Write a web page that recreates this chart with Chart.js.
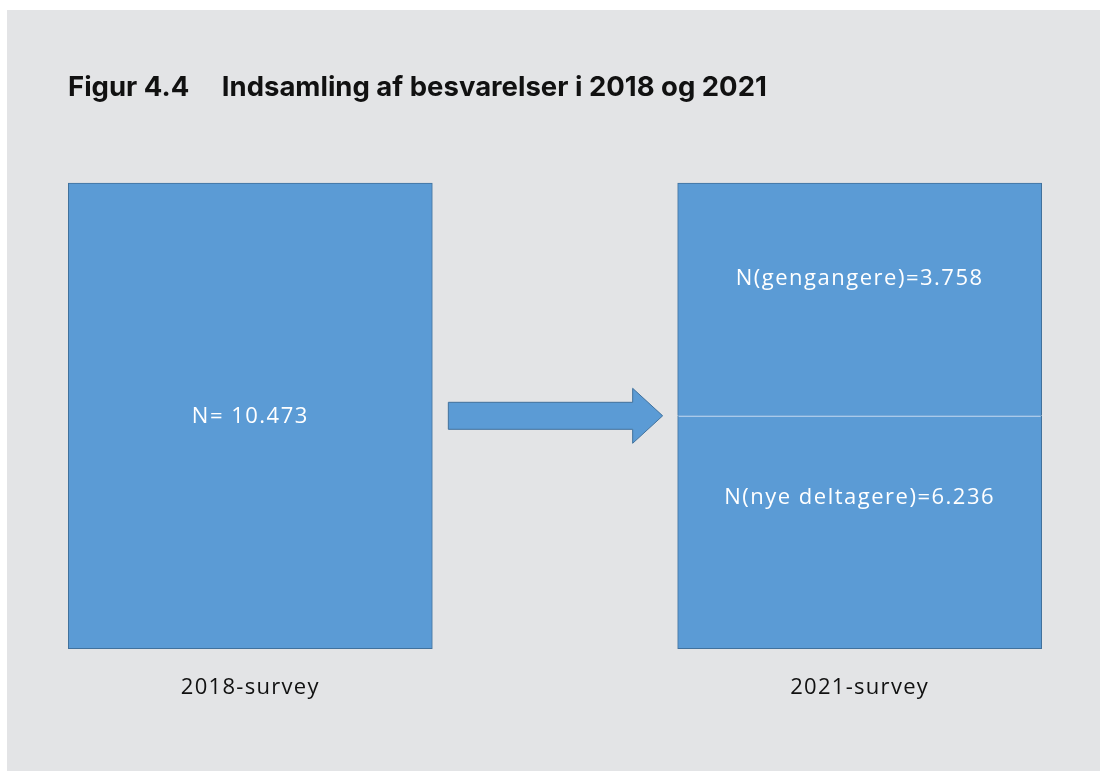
<!DOCTYPE html>
<html>
<head>
<meta charset="utf-8">
<script src="https://cdn.jsdelivr.net/npm/chart.js@4/dist/chart.umd.min.js"></script>
<style>
    body { margin: 0; background: #ffffff; }
    .panel { position: absolute; left: 7px; top: 10px; width: 1093px; height: 761px; background: #e3e4e6; }
</style>
</head>
<body>
<div class="panel"><canvas id="flow-chart" width="1093" height="761"></canvas></div>
<script>
// kategorier: 2018-boks, pil, 2021-boks
const categories = ['2018-survey', '', '2021-survey'];
const groups2021 = ['gengangere', 'nye deltagere'];
const n2018 = 10473;
const n2021 = [3758, 6236];
// boksenes højde i skitsen (ikke proportional med N)
const boxUnits2018 = [2, null, null];
const upperUnits2021 = [null, null, 1];
const lowerUnits2021 = [null, null, 1];

const blue = '#5b9bd5';
const edge = '#41719c';

function fmt(n) {
    return String(n).replace(/\B(?=(\d{3})+(?!\d))/g, '.');
}

const diagram = {
    id: 'diagram',
    afterDatasetsDraw(chart) {
        const ctx = chart.ctx;
        const y = chart.scales.y;
        const box18 = chart.getDatasetMeta(0).data[0];
        const lower = chart.getDatasetMeta(1).data[2];
        const upper = chart.getDatasetMeta(2).data[2];

        ctx.save();
        // skillelinje i 2021-boksen
        ctx.strokeStyle = '#a9c9ea';
        ctx.lineWidth = 1;
        ctx.beginPath();
        const yd = Math.round(lower.y) + 0.5;
        ctx.moveTo(lower.x - lower.width / 2 + 1, yd);
        ctx.lineTo(lower.x + lower.width / 2 - 1, yd);
        ctx.stroke();

        // pil
        const x0 = box18.x + box18.width / 2 + 16;
        const x1 = upper.x - upper.width / 2 - 15;
        const ym = y.getPixelForValue(1);
        const head = 30, body = 13.5, wing = 27.5;
        ctx.beginPath();
        ctx.moveTo(x0, ym - body);
        ctx.lineTo(x1 - head, ym - body);
        ctx.lineTo(x1 - head, ym - wing);
        ctx.lineTo(x1, ym);
        ctx.lineTo(x1 - head, ym + wing);
        ctx.lineTo(x1 - head, ym + body);
        ctx.lineTo(x0, ym + body);
        ctx.closePath();
        ctx.fillStyle = blue;
        ctx.fill();
        ctx.strokeStyle = edge;
        ctx.stroke();

        // tekster i boksene
        ctx.letterSpacing = '1.5px';
        ctx.font = '22px "Open Sans"';
        ctx.fillStyle = '#ffffff';
        ctx.textAlign = 'center';
        ctx.textBaseline = 'middle';
        ctx.fillText('N= ' + fmt(n2018), box18.x, (box18.y + box18.base) / 2 + 1);
        ctx.fillText('N(' + groups2021[0] + ')=' + fmt(n2021[0]), upper.x, upper.y + (upper.base - upper.y) * 0.41);
        ctx.fillText('N(' + groups2021[1] + ')=' + fmt(n2021[1]), lower.x, lower.y + (lower.base - lower.y) * 0.35);
        ctx.restore();
        // kategorietiketterne tegnes efter dette lag
        ctx.letterSpacing = '1.3px';
    },
    afterDraw(chart) {
        chart.ctx.letterSpacing = '0px';
    }
};

const barStyle = {
    backgroundColor: blue,
    borderColor: edge,
    borderSkipped: false,
    barThickness: 364,
    clip: false
};

const ctx = document.getElementById('flow-chart').getContext('2d');
new Chart(ctx, {
    type: 'bar',
    data: {
        labels: categories,
        datasets: [
            { ...barStyle, label: '2018', data: boxUnits2018,
              borderWidth: 1 },
            { ...barStyle, label: groups2021[1], data: lowerUnits2021,
              borderWidth: { left: 1, right: 1, bottom: 1, top: 0 } },
            { ...barStyle, label: groups2021[0], data: upperUnits2021,
              borderWidth: { left: 1, right: 1, top: 1, bottom: 0 } }
        ]
    },
    options: {
        responsive: false,
        animation: false,
        events: [],
        layout: { padding: { left: 61, right: 88, top: 0, bottom: 44 } },
        scales: {
            x: {
                stacked: true,
                grid: { display: false, drawTicks: false },
                border: { display: false },
                ticks: {
                    z: 1,
                    padding: 26,
                    color: '#111111',
                    font: { family: '"Open Sans"', size: 22 }
                }
            },
            y: {
                stacked: true,
                min: 0,
                max: 2,
                grid: { display: false, drawTicks: false },
                border: { display: false },
                ticks: { display: false },
                afterFit(scale) { scale.width = 30; }
            }
        },
        plugins: {
            legend: { display: false },
            tooltip: { enabled: false },
            colors: { enabled: false },
            title: {
                display: true,
                align: 'start',
                text: 'Figur 4.4     Indsamling af besvarelser i 2018 og 2021',
                color: '#111111',
                font: { family: 'Inter', size: 27.5, weight: 'bold' },
                padding: { top: 61, bottom: 79 }
            }
        }
    },
    plugins: [diagram]
});
</script>
</body>
</html>
